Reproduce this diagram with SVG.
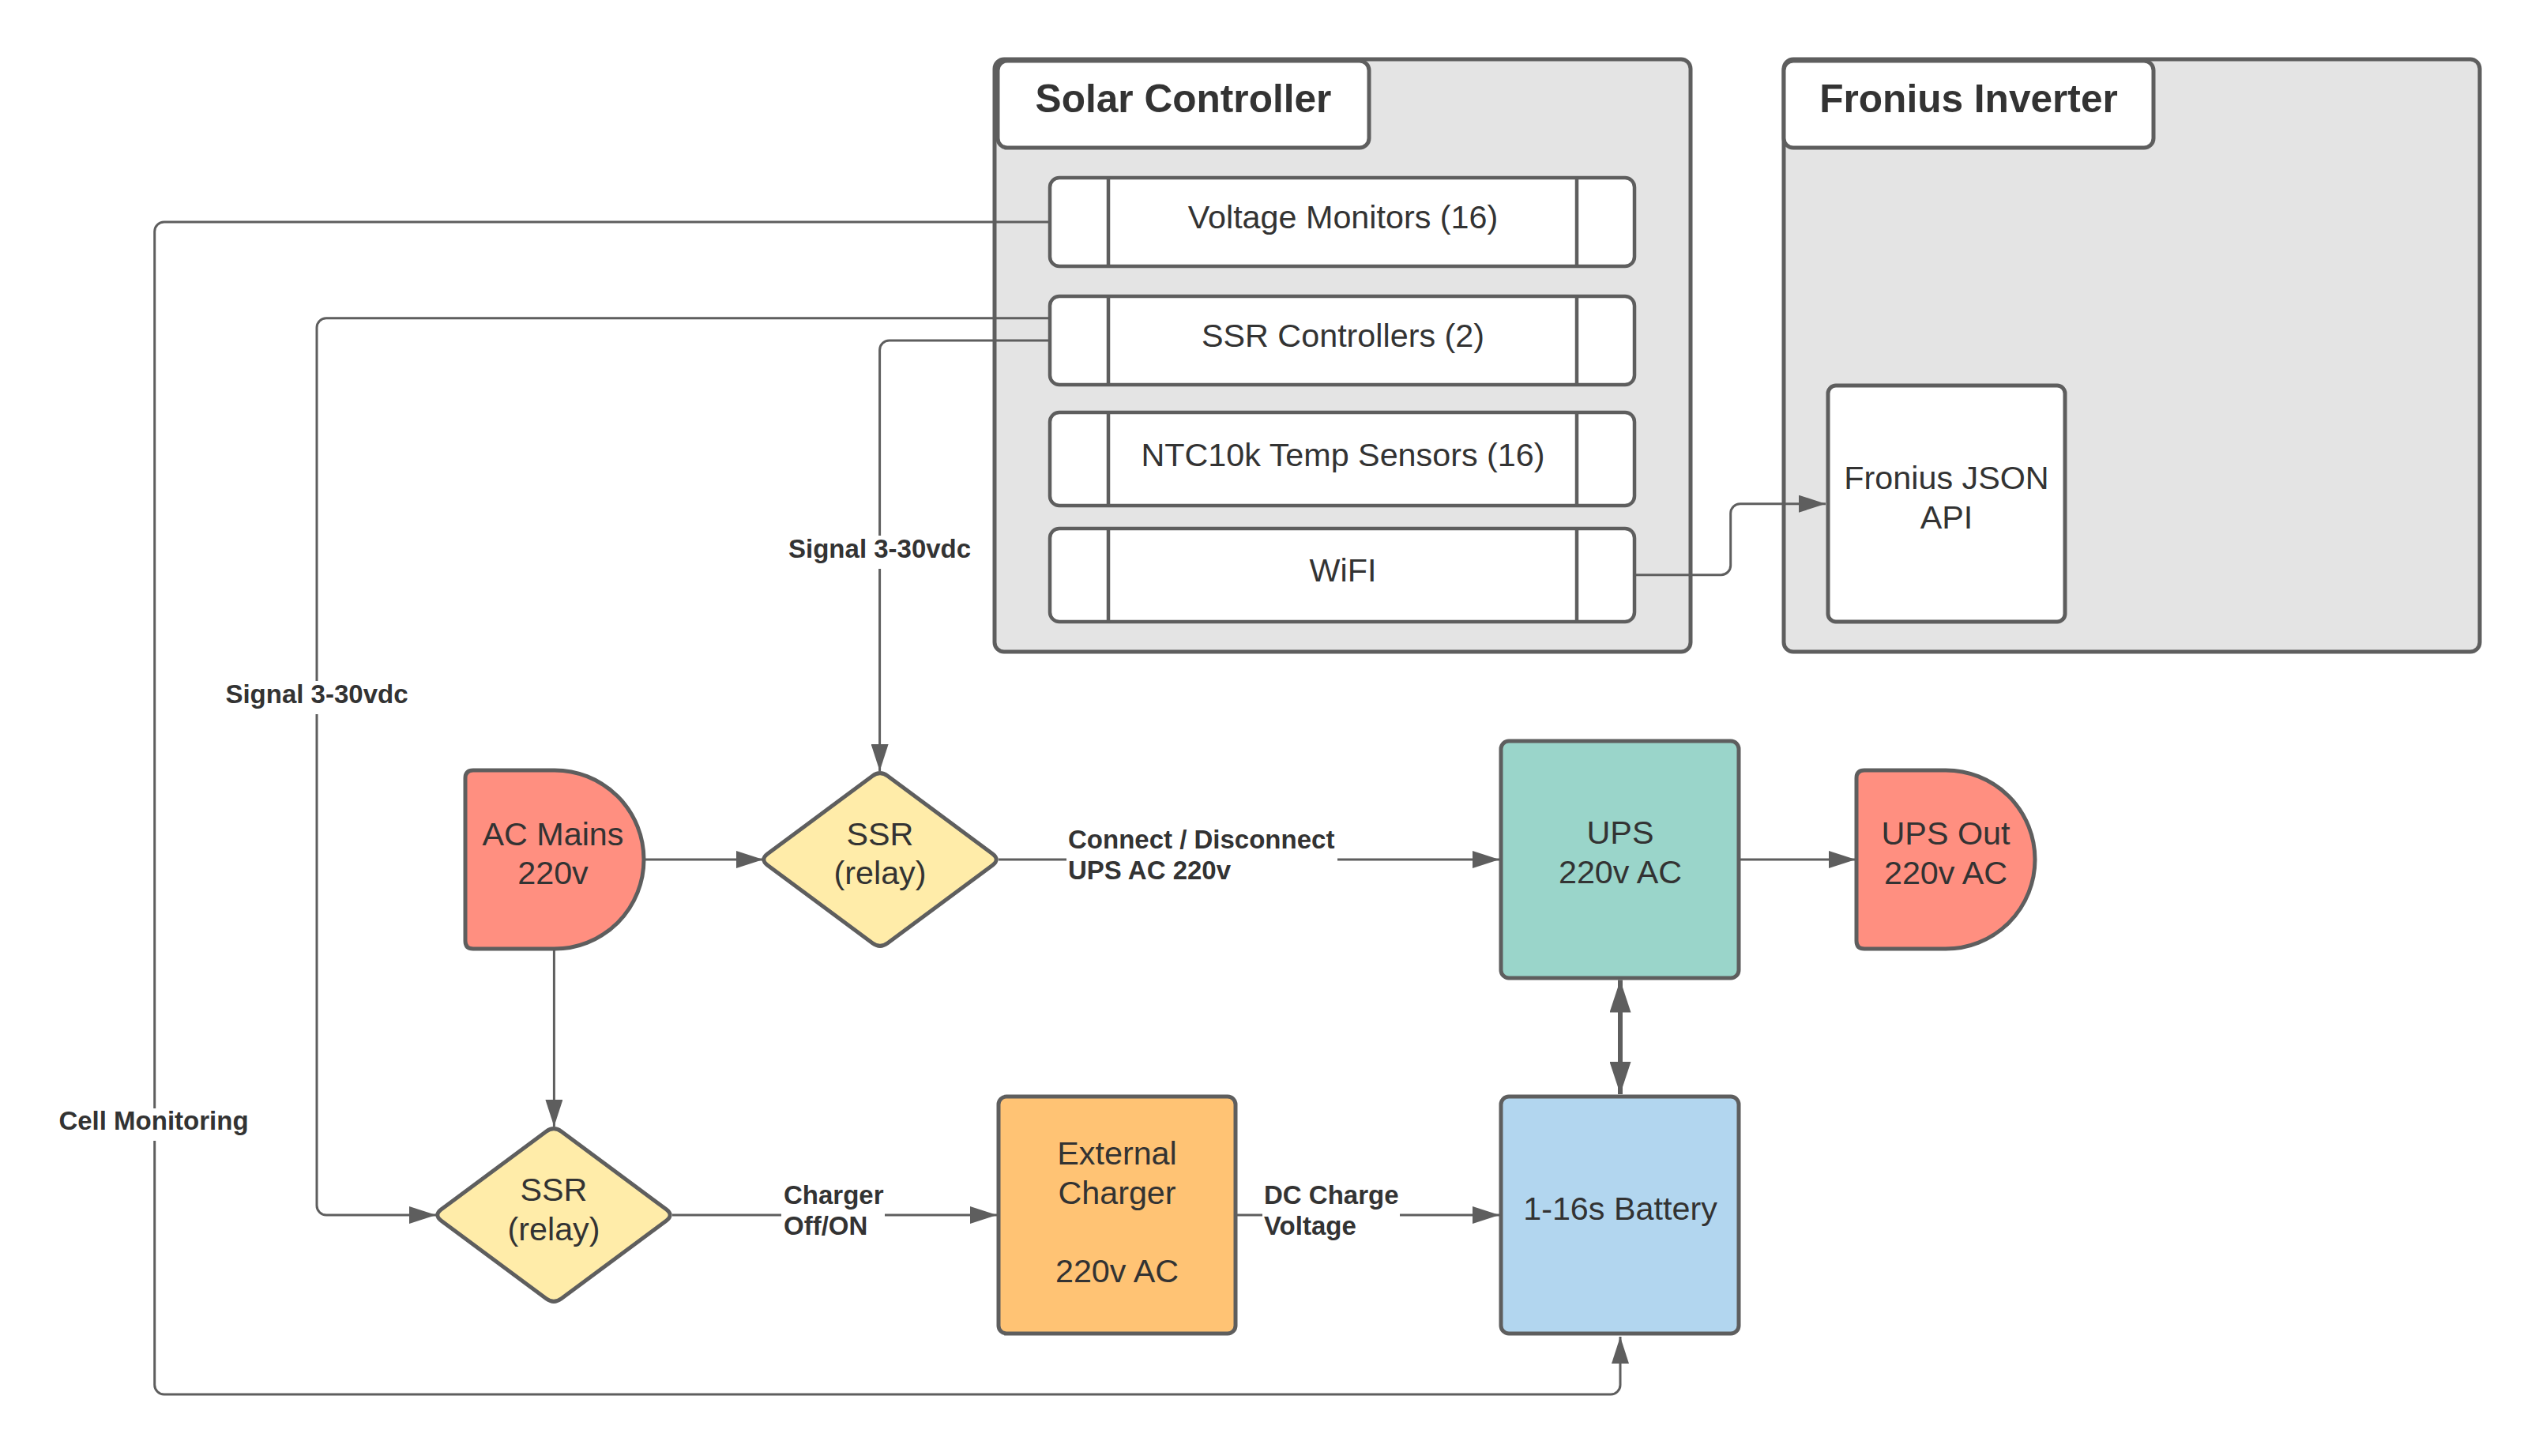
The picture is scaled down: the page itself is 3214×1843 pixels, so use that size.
<svg xmlns="http://www.w3.org/2000/svg" width="3214" height="1843" viewBox="0 0 3214 1843">
<style>
.bg{fill:#ffffff}
.cont{fill:#e4e4e4;stroke:#5e5e5e;stroke-width:5}
.white{fill:#ffffff;stroke:#5e5e5e;stroke-width:5}
.sub{fill:#ffffff;stroke:#5e5e5e;stroke-width:4.5}
.div{stroke:#5e5e5e;stroke-width:4.5;fill:none}
.node{stroke:#5e5e5e;stroke-width:5}
.red{fill:#ff8f80}
.yel{fill:#ffeca9}
.teal{fill:#9ad5ca}
.org{fill:#ffc374}
.blue{fill:#b2d6ef}
.t{font-family:"Liberation Sans",Arial,sans-serif;font-size:41.3px;fill:#333333;text-anchor:middle}
.title{font-family:"Liberation Sans",Arial,sans-serif;font-size:49.6px;font-weight:bold;fill:#333333;text-anchor:middle}
.lbl{font-family:"Liberation Sans",Arial,sans-serif;font-size:33px;font-weight:bold;fill:#333333}
.lblc{text-anchor:middle}
.ln{fill:none;stroke:#5e5e5e;stroke-width:3}
.lnb{fill:none;stroke:#5e5e5e;stroke-width:6}
.lb{fill:#ffffff}
</style>
<defs>
<marker id="arr" viewBox="0 0 34 22" refX="34" refY="11" markerWidth="34" markerHeight="22" markerUnits="userSpaceOnUse" orient="auto">
<path d="M0,0 L34,11 L0,22 Z" fill="#5e5e5e"/>
</marker>
<marker id="arrB" viewBox="0 0 41 27" refX="41" refY="13.5" markerWidth="41" markerHeight="27" markerUnits="userSpaceOnUse" orient="auto-start-reverse">
<path d="M0,0 L41,13.5 L0,27 Z" fill="#5e5e5e"/>
</marker>
</defs>
<rect class="bg" x="0" y="0" width="3214" height="1843"/>

<g id="solar-controller">
<rect class="cont" x="1259" y="75" width="881" height="750" rx="12"/>
<rect class="white" x="1263" y="77" width="470" height="110" rx="12"/>
<text class="title" x="1498" y="141.7">Solar Controller</text>
</g>

<g id="voltage-monitors">
<rect class="sub" x="1329" y="225" width="740" height="112" rx="12"/>
<line class="div" x1="1403" y1="225" x2="1403" y2="337"/>
<line class="div" x1="1996" y1="225" x2="1996" y2="337"/>
<text class="t" x="1700" y="289">Voltage Monitors (16)</text>
</g>

<g id="ssr-controllers">
<rect class="sub" x="1329" y="375" width="740" height="112" rx="12"/>
<line class="div" x1="1403" y1="375" x2="1403" y2="487"/>
<line class="div" x1="1996" y1="375" x2="1996" y2="487"/>
<text class="t" x="1700" y="439">SSR Controllers (2)</text>
</g>

<g id="ntc-sensors">
<rect class="sub" x="1329" y="522" width="740" height="118" rx="12"/>
<line class="div" x1="1403" y1="522" x2="1403" y2="640"/>
<line class="div" x1="1996" y1="522" x2="1996" y2="640"/>
<text class="t" x="1700" y="590">NTC10k Temp Sensors (16)</text>
</g>

<g id="wifi">
<rect class="sub" x="1329" y="669" width="740" height="118" rx="12"/>
<line class="div" x1="1403" y1="669" x2="1403" y2="787"/>
<line class="div" x1="1996" y1="669" x2="1996" y2="787"/>
<text class="t" x="1700" y="736">WiFI</text>
</g>

<g id="fronius-inverter">
<rect class="cont" x="2258" y="75" width="881" height="750" rx="12"/>
<rect class="white" x="2258" y="77" width="468" height="110" rx="12"/>
<text class="title" x="2492" y="141.7">Fronius Inverter</text>
</g>

<g id="fronius-json-api">
<rect class="white" x="2314" y="488" width="300" height="299" rx="10"/>
<text class="t" x="2464" y="619">Fronius JSON</text>
<text class="t" x="2464" y="668.5">API</text>
</g>

<g id="ac-mains">
<path class="node red" d="M599 975 H702 A113 113 0 0 1 702 1201 H599 Q589 1201 589 1191 V985 Q589 975 599 975 Z"/>
<text class="t" x="700" y="1069.5">AC Mains</text>
<text class="t" x="700" y="1119">220v</text>
</g>

<g id="ssr-relay-1">
<path class="node yel" d="M1104.37 982.16 Q1114 975 1123.63 982.16 L1256.37 1080.84 Q1266 1088 1256.37 1095.16 L1123.63 1193.84 Q1114 1201 1104.37 1193.84 L971.63 1095.16 Q962 1088 971.63 1080.84 Z"/>
<text class="t" x="1114" y="1069.5">SSR</text>
<text class="t" x="1114" y="1119">(relay)</text>
</g>

<g id="ssr-relay-2">
<path class="node yel" d="M691.37 1432.16 Q701 1425 710.63 1432.16 L843.37 1530.84 Q853 1538 843.37 1545.16 L710.63 1643.84 Q701 1651 691.37 1643.84 L558.63 1545.16 Q549 1538 558.63 1530.84 Z"/>
<text class="t" x="701" y="1520">SSR</text>
<text class="t" x="701" y="1569.5">(relay)</text>
</g>

<g id="ups">
<rect class="node teal" x="1900" y="938" width="301" height="300" rx="10"/>
<text class="t" x="2051" y="1068">UPS</text>
<text class="t" x="2051" y="1118">220v AC</text>
</g>

<g id="ups-out">
<path class="node red" d="M2360 975 H2463 A113 113 0 0 1 2463 1201 H2360 Q2350 1201 2350 1191 V985 Q2350 975 2360 975 Z"/>
<text class="t" x="2463" y="1069">UPS Out</text>
<text class="t" x="2463" y="1119">220v AC</text>
</g>

<g id="external-charger">
<rect class="node org" x="1264" y="1388" width="300" height="300" rx="10"/>
<text class="t" x="1414" y="1474">External</text>
<text class="t" x="1414" y="1523.6">Charger</text>
<text class="t" x="1414" y="1622.8">220v AC</text>
</g>

<g id="battery">
<rect class="node blue" x="1900" y="1388" width="301" height="300" rx="10"/>
<text class="t" x="2051" y="1544.3">1-16s Battery</text>
</g>

<g id="connectors">
<path class="ln" d="M1329 281 H207.7 A12 12 0 0 0 195.7 293 V1753 A12 12 0 0 0 207.7 1765 H2039 A12 12 0 0 0 2051 1753 V1692" marker-end="url(#arr)"/>
<path class="ln" d="M1329 402.7 H413 A12 12 0 0 0 401 414.7 V1526 A12 12 0 0 0 413 1538 H552" marker-end="url(#arr)"/>
<path class="ln" d="M1329 431 H1125.6 A12 12 0 0 0 1113.6 443 V976" marker-end="url(#arr)"/>
<path class="ln" d="M2069 727.7 H2178.7 A12 12 0 0 0 2190.7 715.7 V649.7 A12 12 0 0 1 2202.7 637.7 H2311" marker-end="url(#arr)"/>
<path class="ln" d="M815 1088 H966" marker-end="url(#arr)"/>
<path class="ln" d="M701.4 1202 V1426" marker-end="url(#arr)"/>
<path class="ln" d="M1264 1088 H1898" marker-end="url(#arr)"/>
<path class="ln" d="M2201 1088 H2349" marker-end="url(#arr)"/>
<path class="ln" d="M851 1538 H1262" marker-end="url(#arr)"/>
<path class="ln" d="M1564 1538 H1898" marker-end="url(#arr)"/>
<path class="lnb" d="M2051 1240.5 V1385" marker-start="url(#arrB)" marker-end="url(#arrB)"/>

<rect class="lb" x="996" y="678" width="236" height="42"/>
<text class="lbl lblc" x="1113.6" y="705.7">Signal 3-30vdc</text>
<rect class="lb" x="283" y="862" width="236" height="42"/>
<text class="lbl lblc" x="401" y="890">Signal 3-30vdc</text>
<rect class="lb" x="73" y="1403" width="243" height="41"/>
<text class="lbl lblc" x="194.5" y="1430">Cell Monitoring</text>
<rect class="lb" x="1350" y="1048" width="343" height="74"/>
<text class="lbl" x="1352" y="1073.5">Connect / Disconnect</text>
<text class="lbl" x="1352" y="1113">UPS AC 220v</text>
<rect class="lb" x="989" y="1498" width="131" height="74"/>
<text class="lbl" x="992" y="1524">Charger</text>
<text class="lbl" x="992" y="1563">Off/ON</text>
<rect class="lb" x="1598" y="1498" width="174" height="74"/>
<text class="lbl" x="1600" y="1524">DC Charge</text>
<text class="lbl" x="1600" y="1563">Voltage</text>
</g>
</svg>
